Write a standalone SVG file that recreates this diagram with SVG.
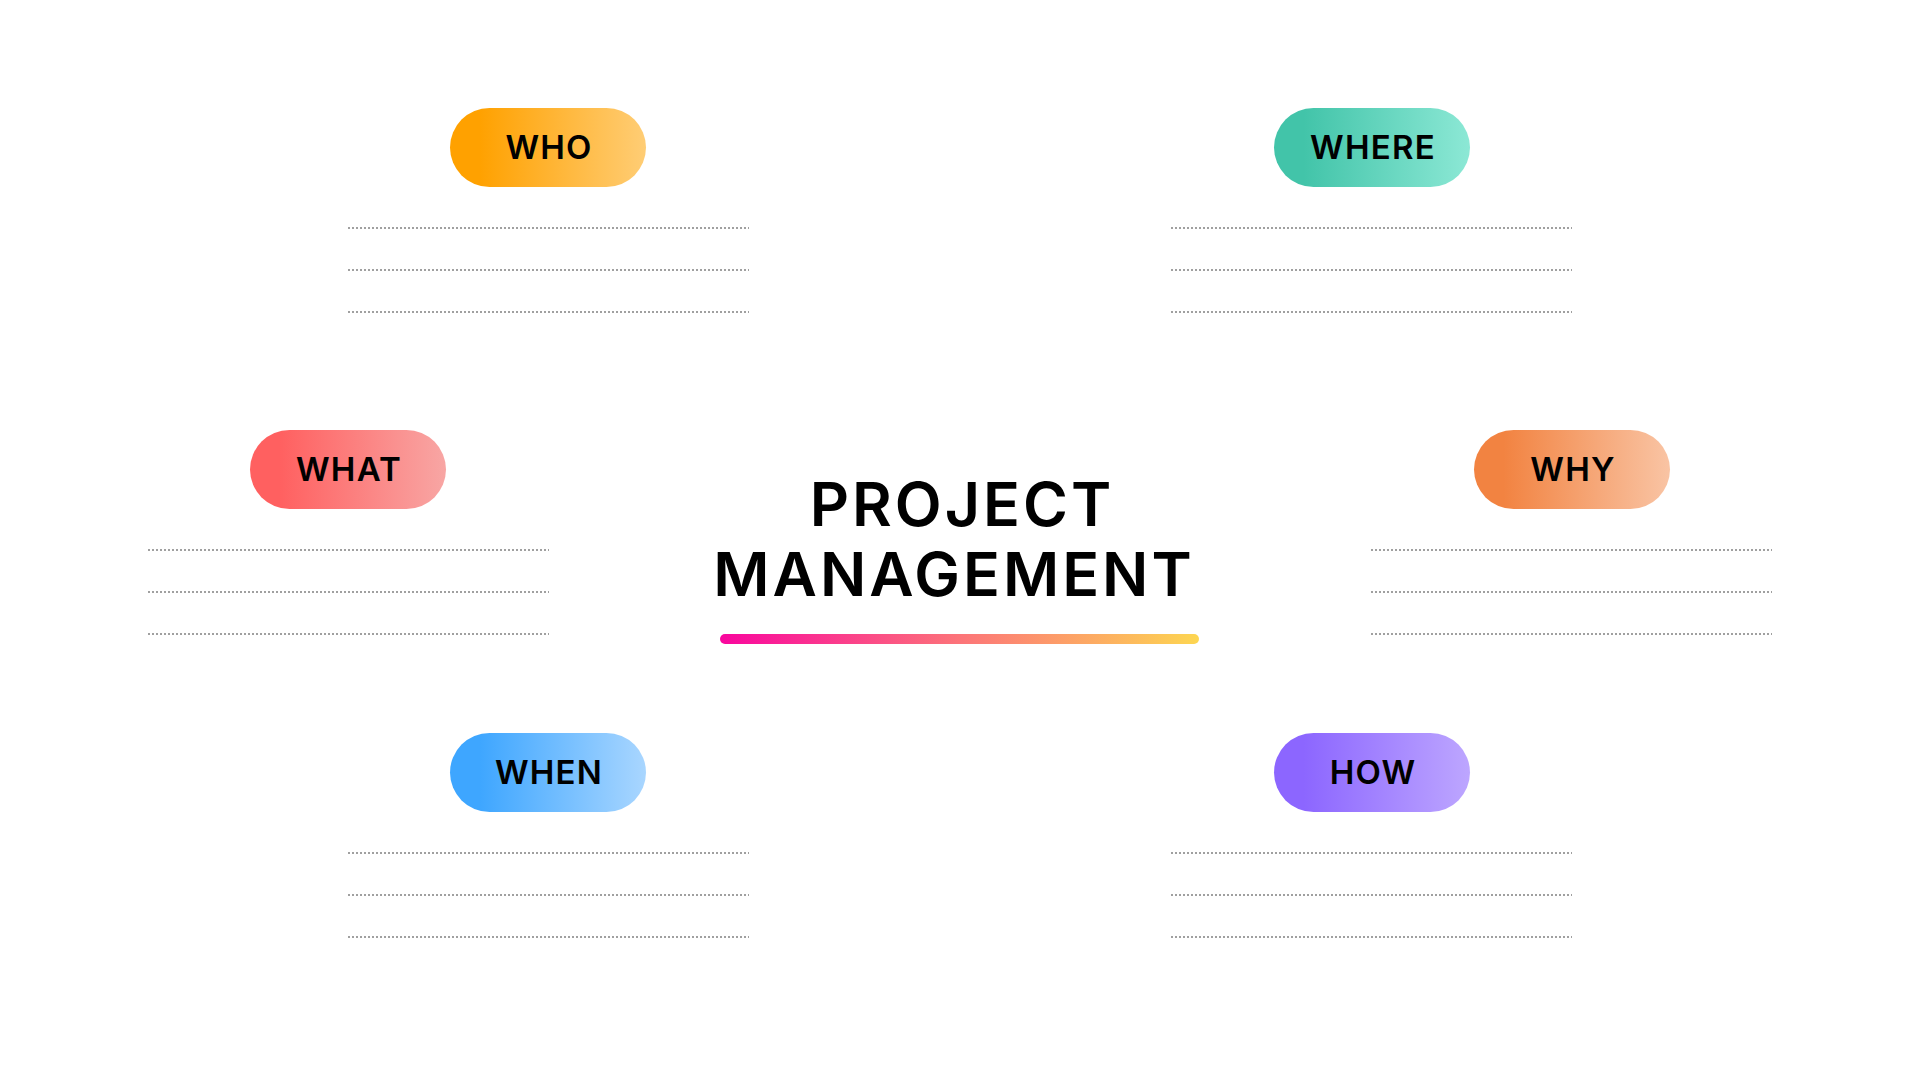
<svg xmlns="http://www.w3.org/2000/svg" width="1920" height="1080" viewBox="0 0 1920 1080">
<style>
.pill-text{font-family:Inter,"Liberation Sans",sans-serif;font-weight:600;font-size:33px;letter-spacing:1.2px;fill:#000;text-anchor:middle}
.title{font-family:Inter,"Liberation Sans",sans-serif;font-weight:600;font-size:61px;letter-spacing:3px;fill:#000;text-anchor:middle}
.dots{stroke:#A0A0A0;stroke-width:2;stroke-dasharray:2 2;fill:none}
</style>
<defs>
<linearGradient id="gWho" x1="0" y1="0" x2="1" y2="0"><stop offset="0.15" stop-color="#FFA100"/><stop offset="1" stop-color="#FFCD75"/></linearGradient>
<linearGradient id="gWhere" x1="0" y1="0" x2="1" y2="0"><stop offset="0.15" stop-color="#42C4A9"/><stop offset="1" stop-color="#8CE8D5"/></linearGradient>
<linearGradient id="gWhat" x1="0" y1="0" x2="1" y2="0"><stop offset="0.15" stop-color="#FF6060"/><stop offset="1" stop-color="#F8A6A4"/></linearGradient>
<linearGradient id="gWhy" x1="0" y1="0" x2="1" y2="0"><stop offset="0.15" stop-color="#F28341"/><stop offset="1" stop-color="#F9C4A4"/></linearGradient>
<linearGradient id="gWhen" x1="0" y1="0" x2="1" y2="0"><stop offset="0.15" stop-color="#3EA6FF"/><stop offset="1" stop-color="#A9D6FF"/></linearGradient>
<linearGradient id="gHow" x1="0" y1="0" x2="1" y2="0"><stop offset="0.15" stop-color="#8C66FF"/><stop offset="1" stop-color="#BDA6FF"/></linearGradient>
<linearGradient id="gBar" x1="0" y1="0" x2="1" y2="0"><stop offset="0" stop-color="#F9069E"/><stop offset="0.5" stop-color="#FC7479"/><stop offset="1" stop-color="#FDD651"/></linearGradient>
</defs>
<rect width="1920" height="1080" fill="#FFFFFF"/>

<g id="center">
<text class="title" x="962" y="526">PROJECT</text>
<text class="title" x="954" y="596">MANAGEMENT</text>
<rect x="720" y="634" width="479" height="10" rx="5" fill="url(#gBar)"/>
</g>

<g id="who">
<rect x="450" y="108" width="196" height="79" rx="39.5" fill="url(#gWho)"/>
<text class="pill-text" x="549" y="159">WHO</text>
<path class="dots" d="M348 228H749M348 270H749M348 312H749"/>
</g>

<g id="where">
<rect x="1274" y="108" width="196" height="79" rx="39.5" fill="url(#gWhere)"/>
<text class="pill-text" x="1373" y="159">WHERE</text>
<path class="dots" d="M1171 228H1572M1171 270H1572M1171 312H1572"/>
</g>

<g id="what">
<rect x="250" y="430" width="196" height="79" rx="39.5" fill="url(#gWhat)"/>
<text class="pill-text" x="349" y="481">WHAT</text>
<path class="dots" d="M148 550H549M148 592H549M148 634H549"/>
</g>

<g id="why">
<rect x="1474" y="430" width="196" height="79" rx="39.5" fill="url(#gWhy)"/>
<text class="pill-text" x="1573" y="481">WHY</text>
<path class="dots" d="M1371 550H1772M1371 592H1772M1371 634H1772"/>
</g>

<g id="when">
<rect x="450" y="733" width="196" height="79" rx="39.5" fill="url(#gWhen)"/>
<text class="pill-text" x="549" y="784">WHEN</text>
<path class="dots" d="M348 853H749M348 895H749M348 937H749"/>
</g>

<g id="how">
<rect x="1274" y="733" width="196" height="79" rx="39.5" fill="url(#gHow)"/>
<text class="pill-text" x="1373" y="784">HOW</text>
<path class="dots" d="M1171 853H1572M1171 895H1572M1171 937H1572"/>
</g>

<g id="connectors"></g>
</svg>
